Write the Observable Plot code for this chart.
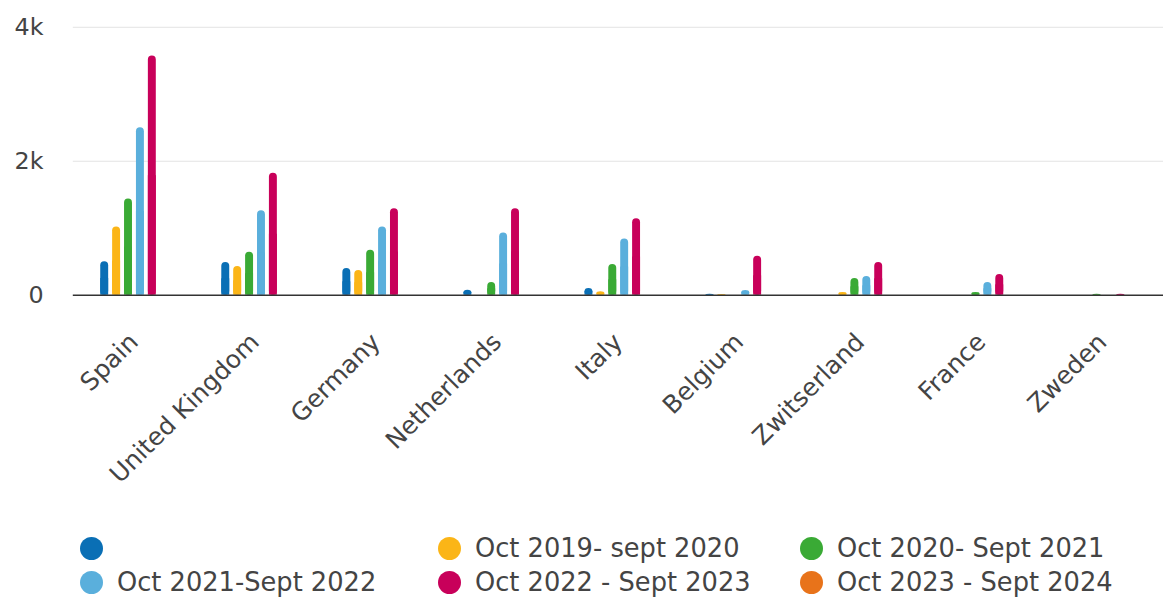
<!DOCTYPE html>
<html>
<head>
<meta charset="utf-8">
<script src="https://cdn.jsdelivr.net/npm/d3@7"></script>
<script src="https://cdn.jsdelivr.net/npm/@observablehq/plot@0.6"></script>
<style>
  html, body { margin: 0; padding: 0; background: #fff; overflow: hidden; width: 1163px; height: 599px; }
  #chart { width: 1163px; height: 500px; overflow: hidden; }
  #legend { position: relative; height: 99px; font-family: "DejaVu Sans", sans-serif; font-size: 25.7px; color: #444; }
  .item { position: absolute; display: flex; align-items: center; white-space: nowrap; }
  .dot { width: 23px; height: 23px; border-radius: 50%; margin-right: 14px; flex: none; }
</style>
</head>
<body>
<div id="chart"></div>
<div id="legend"></div>
<script>
const countries = ["Spain", "United Kingdom", "Germany", "Netherlands", "Italy", "Belgium", "Zwitserland", "France", "Zweden"];
const seriesNames = ["", "Oct 2019- sept 2020", "Oct 2020- Sept 2021", "Oct 2021-Sept 2022", "Oct 2022 - Sept 2023", "Oct 2023 - Sept 2024"];
const seriesKeys = ["s0", "s1", "s2", "s3", "s4", "s5"];
const seriesColors = ["#0a6fb5", "#fbb517", "#3aaa35", "#5aafdc", "#c8005a", "#e8731a"];

// values per series, in country order
const s0 = [500, 490, 400, 75, 100, 15, 0, 0, 0];
const s1 = [1020, 430, 370, 0, 50, 10, 40, 0, 0];
const s2 = [1435, 640, 670, 190, 460, 0, 250, 40, 15];
const s3 = [2500, 1260, 1020, 930, 840, 70, 280, 190, 0];
const s4 = [3570, 1820, 1290, 1290, 1140, 580, 490, 310, 15];
const s5 = [0, 0, 0, 0, 0, 0, 0, 0, 0];
const yTicks = [0, 2000, 4000];

const seriesValues = [s0, s1, s2, s3, s4, s5];
const data = [];
countries.forEach((c, ci) => {
  seriesKeys.forEach((k, si) => {
    const v = seriesValues[si][ci];
    if (v > 0) data.push({country: c, series: k, value: v});
  });
});

const W = 1172, ML = 73, MR = 0;
const fxPadInner = 0.42, fxPadOuter = 0.21;
// offset of the first facet from the plot's left edge (facet axes are anchored there)
const fxStep = (W - ML - MR) / (countries.length - fxPadInner + 2 * fxPadOuter);
const facetOffset = fxPadOuter * fxStep;

const plot = Plot.plot({
  width: W,
  height: 500,
  marginLeft: ML,
  marginRight: MR,
  marginTop: 27,
  marginBottom: 203,
  style: {fontFamily: "DejaVu Sans, sans-serif", fontSize: "24px", color: "#444", background: "#fff", overflow: "visible"},
  fx: {domain: countries, paddingInner: fxPadInner, paddingOuter: fxPadOuter, label: null, axis: null},
  x: {domain: seriesKeys, paddingInner: 0.37, paddingOuter: 0, axis: null},
  y: {domain: [0, 4000], label: null, axis: null},
  color: {domain: seriesKeys, range: seriesColors},
  marks: [
    Plot.axisY({ticks: yTicks.filter(d => d > 0), tickSize: -(W - ML - MR), dx: -facetOffset, tickFormat: () => "", stroke: "#e3e3e3", label: null}),
    Plot.axisY({ticks: yTicks, tickSize: 0, tickPadding: 30 + facetOffset, tickFormat: d => d === 0 ? "0" : (d / 1000) + "k", label: null, fill: "#444", fontSize: 24}),
    Plot.axisFx({anchor: "bottom", tickRotate: -45, tickSize: 0, tickPadding: 43, label: null, fill: "#444", fontSize: 25}),
    Plot.barY(data, {fx: "country", x: "series", y: "value", fill: "series", rx: 4}),
    Plot.barY(data, {fx: "country", x: "series", y: d => d.value / 2, fill: "series"}),
    Plot.axisY({ticks: [0], tickSize: -(W - ML - MR), dx: -facetOffset, tickFormat: () => "", stroke: "#333", strokeWidth: 1.5, label: null})
  ]
});
document.getElementById("chart").appendChild(plot);

const legend = document.getElementById("legend");
const cols = [80, 438, 800];
const rows = [48, 82];
seriesKeys.forEach((k, i) => {
  const item = document.createElement("div");
  item.className = "item";
  item.style.left = cols[i % 3] + "px";
  item.style.top = (rows[Math.floor(i / 3)] - 15) + "px";
  item.style.height = "30px";
  const dot = document.createElement("span");
  dot.className = "dot";
  dot.style.background = seriesColors[i];
  const label = document.createElement("span");
  label.textContent = seriesNames[i];
  item.appendChild(dot);
  item.appendChild(label);
  legend.appendChild(item);
});
</script>
</body>
</html>
